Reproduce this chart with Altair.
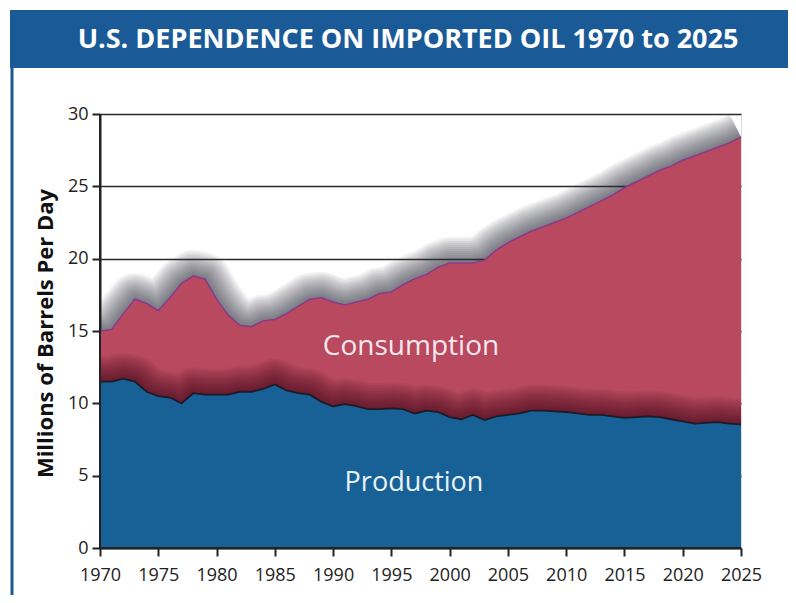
import altair as alt
import pandas as pd

years = list(range(1970, 2026))
consumption = [15.0, 15.1, 16.2, 17.2, 16.9, 16.4, 17.3, 18.3, 18.8, 18.6,
               17.2, 16.1, 15.4, 15.3, 15.7, 15.8, 16.2, 16.7, 17.2, 17.3,
               17.0, 16.8, 17.0, 17.2, 17.6, 17.7, 18.2, 18.6, 18.9, 19.4,
               19.7, 19.7, 19.7, 19.9, 20.6, 21.1, 21.5, 21.9, 22.2, 22.5,
               22.8, 23.2, 23.6, 24.0, 24.4, 24.9, 25.3, 25.7, 26.1, 26.4,
               26.8, 27.1, 27.4, 27.7, 28.0, 28.4]
production = [11.5, 11.5, 11.7, 11.5, 10.8, 10.5, 10.4, 10.0, 10.7, 10.6,
              10.6, 10.6, 10.8, 10.8, 11.0, 11.3, 10.9, 10.7, 10.6, 10.1,
              9.8, 9.95, 9.8, 9.6, 9.6, 9.65, 9.6, 9.3, 9.5, 9.4,
              9.05, 8.9, 9.2, 8.85, 9.1, 9.2, 9.3, 9.5, 9.5, 9.45,
              9.4, 9.3, 9.2, 9.2, 9.1, 9.0, 9.05, 9.1, 9.05, 8.9,
              8.75, 8.6, 8.65, 8.7, 8.6, 8.55]
x_ticks = list(range(1970, 2026, 5))
y_ticks = [0, 5, 10, 15, 20, 25, 30]
title_text = "U.S. DEPENDENCE ON IMPORTED OIL 1970 to 2025"
y_title = "Millions of Barrels Per Day"
labels = ["Consumption", "Production"]

W, H = 641, 434
FONT = "Open Sans"

df = pd.DataFrame({"year": years, "consumption": consumption, "production": production})

xenc = alt.X("year:Q", scale=alt.Scale(domain=[1970, 2025], nice=False, zero=False),
             axis=alt.Axis(values=x_ticks, format="d", title=None, grid=False,
                           labelFlush=False, labelOverlap=False,
                           labelFontSize=18, labelFont=FONT, labelColor="#222",
                           labelPadding=10, tickSize=8, tickWidth=2, tickColor="#222",
                           domainColor="#222", domainWidth=2))
yscale = alt.Scale(domain=[0, 30], nice=False)
yaxis = alt.Axis(values=y_ticks, title=y_title, grid=True, gridColor="#2a2a2a", gridWidth=1.6,
                 labelFlush=False, labelOverlap=False,
                 labelFontSize=18, labelFont=FONT, labelColor="#222", labelPadding=4,
                 tickSize=8, tickWidth=2, tickColor="#222", domainColor="#222", domainWidth=2,
                 titleFont=FONT, titleFontSize=22, titleFontWeight="bold", titleColor="#111",
                 titleX=-55, titleY=219, titleAngle=270, titleAlign="center", titleBaseline="middle")

base = alt.Chart(df)

one = pd.DataFrame({"t": [title_text]})
title_rect = alt.Chart(one).mark_rect(color="#1a5a97").encode(
    x=alt.value(-90), x2=alt.value(W + 47), y=alt.value(-104), y2=alt.value(-46))
title_txt = alt.Chart(one).mark_text(color="white", font=FONT, fontSize=27, fontWeight="bold",
                                     align="center", baseline="middle").encode(
    x=alt.value(308), y=alt.value(-74), text="t:N")
left_rule = alt.Chart(one).mark_rule(color="#1a5a97", strokeWidth=3).encode(
    x=alt.value(-88), y=alt.value(-46), y2=alt.value(H + 47))

layers = [title_rect, title_txt, left_rule]

glow_widths = [52, 48, 44, 40, 36, 32, 28, 24, 20, 16, 12, 8, 4]

# glow above consumption curve
for w in glow_widths:
    layers.append(base.mark_line(color="#2a2e35", strokeWidth=w, strokeOpacity=0.068, clip=True,
                                 strokeJoin="round").encode(
        x=xenc, y=alt.Y("consumption:Q", scale=yscale, axis=yaxis)))

layers.append(base.mark_area(color="#b8495e", opacity=1).encode(
    x=xenc, y=alt.Y("consumption:Q", scale=yscale, axis=yaxis)))
layers.append(base.mark_line(color="#8a3a8c", strokeWidth=1.5).encode(
    x=xenc, y=alt.Y("consumption:Q", scale=yscale)))

# shadow above production curve
for w in glow_widths:
    layers.append(base.mark_line(color="#35040f", strokeWidth=w, strokeOpacity=0.06, clip=True,
                                 strokeJoin="round").encode(
        x=xenc, y=alt.Y("production:Q", scale=yscale)))

layers.append(base.mark_area(color="#176196", opacity=1).encode(
    x=xenc, y=alt.Y("production:Q", scale=yscale)))
layers.append(base.mark_line(color="#1c1c28", strokeWidth=1.8).encode(
    x=xenc, y=alt.Y("production:Q", scale=yscale)))

# frame lines on top of areas
layers.append(alt.Chart(one).mark_rule(color="#222", strokeWidth=2).encode(
    x=alt.value(0), y=alt.value(0), y2=alt.value(H)))
layers.append(alt.Chart(one).mark_rule(color="#222", strokeWidth=2).encode(
    x=alt.value(0), x2=alt.value(W), y=alt.value(H)))

layers.append(alt.Chart(pd.DataFrame({"t": [labels[0]]})).mark_text(
    color="#f6e8ec", font=FONT, fontSize=28, align="center", baseline="middle").encode(
    x=alt.value(311), y=alt.value(233), text="t:N"))
layers.append(alt.Chart(pd.DataFrame({"t": [labels[1]]})).mark_text(
    color="#eaf2f8", font=FONT, fontSize=27, align="center", baseline="middle").encode(
    x=alt.value(314), y=alt.value(369), text="t:N"))

chart = alt.layer(*layers).properties(
    width=W, height=H,
    padding={"left": 92, "top": 106, "right": 47, "bottom": 47},
    autosize=alt.AutoSizeParams(type="none"),
).configure_view(fill="#e8ebef", stroke="#333", strokeWidth=1.5).configure(background="white")

chart.save("out.html", embed_options={"renderer": "svg", "actions": False})
